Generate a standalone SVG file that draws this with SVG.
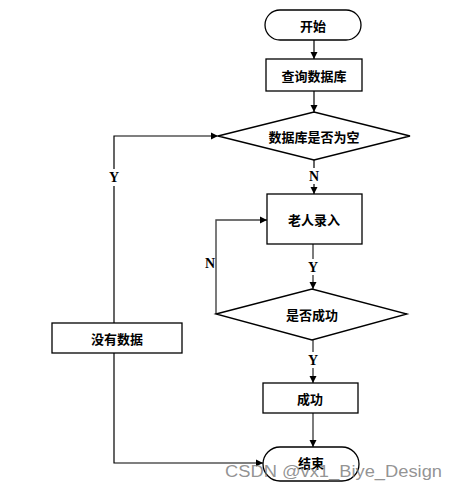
<svg xmlns="http://www.w3.org/2000/svg" width="457" height="492" viewBox="0 0 457 492">
<style>
.s{fill:#fff;stroke:#000;stroke-width:1.3}
.t{font-family:"Noto Sans CJK SC",sans-serif;font-size:13px;font-weight:bold;fill:#000;text-anchor:middle;dominant-baseline:central}
.l{font-family:"Liberation Serif",serif;font-size:14px;font-weight:bold;fill:#000;text-anchor:middle;dominant-baseline:central}
.c{fill:none;stroke:#000;stroke-width:1.2}
.g{fill:none;stroke:#444;stroke-width:1.4}
.wm{font-family:"Liberation Sans",sans-serif;font-size:16px;fill:#777;fill-opacity:0.8}
</style>
<defs>
<marker id="a" markerWidth="8" markerHeight="8" refX="7" refY="4" orient="auto" markerUnits="userSpaceOnUse">
<path d="M0,0.5 L7,4 L0,7.5 Z" fill="#000"/>
</marker>
</defs>
<rect width="457" height="492" fill="#fff"/>
<g id="connectors">
<path class="c" d="M314,40 V59" marker-end="url(#a)"/>
<path class="c" d="M314,91 V112" marker-end="url(#a)"/>
<path class="c" d="M314,160 V168 M314,184 V194" marker-end="url(#a)"/>
<path class="g" d="M313,244 V259 M313,275 V289" marker-end="url(#a)"/>
<path class="g" d="M313,340 V352 M313,368 V383" marker-end="url(#a)"/>
<path class="g" d="M313,413 V447" marker-end="url(#a)"/>
<path class="g" d="M216,314 V220 H267" marker-end="url(#a)"/>
<path class="c" d="M114,323 V186 M114,169 V136 H218" marker-end="url(#a)"/>
<path class="c" d="M114,353 V463 H263" marker-end="url(#a)"/>
<text class="l" x="314" y="176">N</text>
<text class="l" x="313" y="267">Y</text>
<text class="l" x="313" y="360">Y</text>
<text class="l" x="210" y="263">N</text>
<text class="l" x="114" y="177">Y</text>
</g>
<g id="start">
<rect class="s" x="265" y="10" width="96" height="30" rx="15"/>
<text class="t" x="313" y="25">开始</text>
</g>
<g id="query">
<rect class="s" x="266" y="59" width="96" height="32"/>
<text class="t" x="314" y="75">查询数据库</text>
</g>
<g id="empty">
<polygon class="s" points="218,136 314,112 410,136 314,160"/>
<text class="t" x="314" y="136">数据库是否为空</text>
</g>
<g id="input">
<rect class="s" x="267" y="194" width="95" height="50"/>
<text class="t" x="314" y="219">老人录入</text>
</g>
<g id="success-check">
<polygon class="s" points="216,314 312,289 407,314 312,340"/>
<text class="t" x="312" y="314">是否成功</text>
</g>
<g id="success">
<rect class="s" x="263" y="383" width="95" height="30"/>
<text class="t" x="310" y="398">成功</text>
</g>
<g id="nodata">
<rect class="s" x="52" y="323" width="130" height="30"/>
<text class="t" x="117" y="338">没有数据</text>
</g>
<g id="end">
<rect class="s" x="263" y="447" width="96" height="34" rx="17"/>
<text class="t" x="311" y="462">结束</text>
</g>
<text class="wm" x="225" y="477" textLength="217" lengthAdjust="spacingAndGlyphs">CSDN @vx1_Biye_Design</text>
</svg>
